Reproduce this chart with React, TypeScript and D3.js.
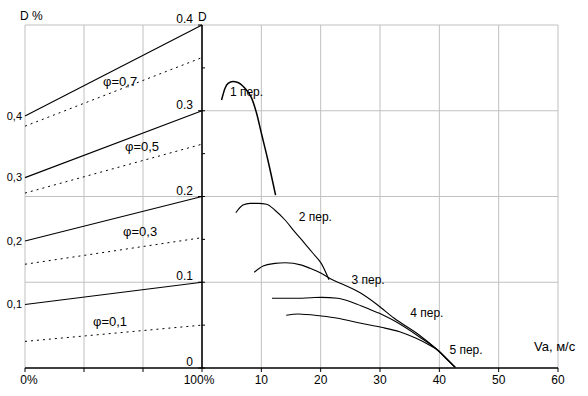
import React from 'react';
import * as d3 from 'd3';

// left panel: share of load, %
const pctTicks = [0, 100 / 3, 200 / 3, 100];
const phiNames = ['φ=0,1', 'φ=0,3', 'φ=0,5', 'φ=0,7'];
const solidStart = [0.074, 0.148, 0.222, 0.294];
const solidEnd = [0.1, 0.2, 0.3, 0.4];
const dottedStart = [0.031, 0.121, 0.204, 0.282];
const dottedEnd = [0.05, 0.152, 0.261, 0.362];
const leftLabels = ['0,1', '0,2', '0,3', '0,4'];

// right panel: dynamic factor D vs speed Va per gear
const vaTicks = [10, 20, 30, 40, 50, 60];
const dTicks = [0, 0.1, 0.2, 0.3, 0.4];
const dMinor = [0.05, 0.15, 0.25, 0.35];
const gearNames = ['1 пер.', '2 пер.', '3 пер.', '4 пер.', '5 пер.'];

const gear1: [number, number][] = [
  [3.3, 0.3125], [3.9, 0.3265], [4.4, 0.332], [5.2, 0.334], [6.05, 0.333],
  [7.2, 0.3265], [8.35, 0.315], [9.2, 0.297], [10.0, 0.274], [11.1, 0.2426], [12.4, 0.2017],
];
const gear2: [number, number][] = [
  [5.7, 0.181], [6.9, 0.19], [8.1, 0.192], [9.5, 0.192], [10.9, 0.191], [12.3, 0.184],
  [14.0, 0.1726], [15.6, 0.159], [17.3, 0.1454], [18.7, 0.1338], [20.1, 0.122], [21.4, 0.103],
];
const gear3: [number, number][] = [
  [8.8, 0.1116], [10.3, 0.119], [12.3, 0.122], [14.0, 0.1228], [16.8, 0.12], [18.2, 0.1163],
  [20.1, 0.1104], [21.8, 0.1034], [24.0, 0.0968], [26.8, 0.0871], [29.6, 0.0735],
  [32.4, 0.058], [36.6, 0.0385], [39.7, 0.021], [42.7, 0.0008],
];
const gear4: [number, number][] = [
  [11.8, 0.0813], [15.6, 0.0813], [18.4, 0.082], [20.1, 0.0824], [22.9, 0.0813],
  [25.7, 0.0755], [28.5, 0.0676], [29.9, 0.0638], [32.4, 0.055], [36.6, 0.0365],
  [39.7, 0.021], [42.5, 0.0015],
];
const gear5: [number, number][] = [
  [14.2, 0.0615], [16.2, 0.063], [20.1, 0.0606], [22.9, 0.058], [26.8, 0.0521],
  [30.2, 0.0475], [33.3, 0.0423], [36.1, 0.0346], [38.3, 0.0268], [39.7, 0.021],
  [41.1, 0.0113], [42.7, 0.0008],
];
const gears = [gear1, gear2, gear3, gear4, gear5];

// label anchors (in data units)
const gearLabelAt: [number, number][] = [[4.7, 0.317], [16.3, 0.1714], [25.2, 0.098], [35.1, 0.0595], [41.7, 0.0163]];
const phiLabelAt: [number, number][] = [[38.4, 0.049], [55.4, 0.154], [56.5, 0.253], [44.1, 0.329]];

const W = 588;
const H = 396;
const grid = '#c0c0c0';
const font = '"Liberation Sans", Arial, sans-serif';

export default function App() {
  const xl = d3.scaleLinear().domain([0, 100]).range([25, 202]);
  const xr = d3.scaleLinear().domain([0, 60]).range([202, 558]);
  const y = d3.scaleLinear().domain([0, 0.4]).range([368, 25]);

  const line = d3.line<[number, number]>()
    .x(d => xr(d[0]))
    .y(d => y(d[1]))
    .curve(d3.curveMonotoneX);

  const y0 = y(0);

  return (
    <svg width={W} height={H} style={{ position: 'absolute', left: 0, top: 0, background: '#fff' }}
      fontFamily={font} fontSize={12}>
      <rect width={W} height={H} fill="#fff" />

      {/* left panel grid */}
      {pctTicks.slice(0, 3).map((p, i) => (
        <line key={'lg' + i} x1={xl(p)} x2={xl(p)} y1={y(0.4)} y2={y0} stroke={grid} />
      ))}
      {[0.1, 0.2, 0.4].map((d, i) => (
        <line key={'lh' + i} x1={xl(0)} x2={xl(100)} y1={y(d)} y2={y(d)} stroke={grid} />
      ))}

      {/* right panel grid */}
      {vaTicks.map(v => (
        <line key={'rg' + v} x1={xr(v)} x2={xr(v)} y1={y(0.4)} y2={y0} stroke={grid} />
      ))}
      {dTicks.slice(1).map(d => (
        <line key={'rh' + d} x1={xr(0)} x2={xr(60)} y1={y(d)} y2={y(d)} stroke={grid} />
      ))}

      {/* left panel lines */}
      {phiNames.map((n, i) => (
        <g key={n}>
          <line x1={xl(0)} y1={y(solidStart[i])} x2={xl(100)} y2={y(solidEnd[i])} stroke="#000" strokeWidth={1.1} />
          <line x1={xl(0)} y1={y(dottedStart[i])} x2={xl(100)} y2={y(dottedEnd[i])} stroke="#000"
            strokeWidth={1} strokeDasharray="2 4" />
          <text x={xl(phiLabelAt[i][0])} y={y(phiLabelAt[i][1])} fontSize={13}>{n}</text>
          <text x={22} y={y(solidStart[i])} dy="0.35em" textAnchor="end" fontSize={11}>{leftLabels[i]}</text>
        </g>
      ))}

      {/* gear curves */}
      {gears.map((g, i) => (
        <g key={'gear' + i}>
          <path d={line(g) || ''} fill="none" stroke="#000" strokeWidth={i === 0 ? 1.5 : 1.1} />
          <text x={xr(gearLabelAt[i][0])} y={y(gearLabelAt[i][1])}>{gearNames[i]}</text>
        </g>
      ))}

      {/* axes */}
      <line x1={xl(0)} x2={xr(60)} y1={y0} y2={y0} stroke="#000" strokeWidth={1.5} />
      {pctTicks.map((p, i) => (
        <line key={'lt' + i} x1={xl(p)} x2={xl(p)} y1={y0} y2={y0 + 4} stroke="#000" />
      ))}
      {vaTicks.map(v => (
        <g key={'rt' + v}>
          <line x1={xr(v)} x2={xr(v)} y1={y0} y2={y0 + 4} stroke="#000" />
          <text x={xr(v)} y={y0 + 16} textAnchor="middle">{v}</text>
        </g>
      ))}
      <text x={xl(0) + 4} y={y0 + 16} textAnchor="middle">0%</text>
      <text x={xl(100) - 3} y={y0 + 16} textAnchor="middle">100%</text>

      <line x1={xr(0)} x2={xr(0)} y1={y(0.4)} y2={y0} stroke="#000" strokeWidth={1.6} />
      {dTicks.map(d => (
        <g key={'dt' + d}>
          <line x1={xr(0) - 4} x2={d === 0.4 ? xr(0) : xr(0) + 3} y1={y(d)} y2={y(d)} stroke="#000" />
          <text x={xr(0) - 9} y={y(d) - 2} textAnchor="end">{d === 0 ? '0' : d.toFixed(1)}</text>
        </g>
      ))}
      {dMinor.map(d => (
        <line key={'dm' + d} x1={xr(0)} x2={xr(0) + 3} y1={y(d)} y2={y(d)} stroke="#000" />
      ))}

      <text x={198} y={y(0.4) - 4}>D</text>
      <text x={20} y={20}>D %</text>
      <text x={534} y={351} fontSize={13}>Va, м/с</text>
    </svg>
  );
}
